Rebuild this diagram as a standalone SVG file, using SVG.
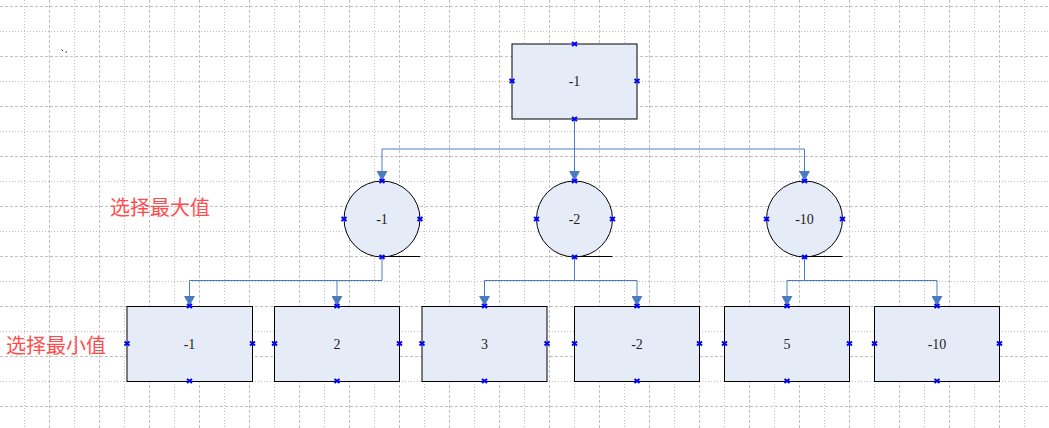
<svg xmlns="http://www.w3.org/2000/svg" xmlns:xlink="http://www.w3.org/1999/xlink" width="1049" height="428" viewBox="0 0 1049 428">
<style>
.gdash{stroke:#c0c0c0;stroke-width:1;stroke-dasharray:3,2;fill:none}
.gdot{stroke:#c0c0c0;stroke-width:1;stroke-dasharray:1,2;fill:none}
.box{fill:#e6ecf7;stroke:#000;stroke-width:1}
.num{font-family:"Liberation Serif","DejaVu Serif",serif;font-size:14px;fill:#222;text-anchor:middle}
.lbl{font-family:"Liberation Sans","Noto Sans CJK SC",sans-serif;font-size:20px;fill:#ff4d4d}
.con{stroke:#4a7cc4;stroke-width:1;fill:none}
.ul{stroke:#000;stroke-width:1}
</style>
<defs>
<marker id="arr" markerUnits="userSpaceOnUse" markerWidth="11" markerHeight="11" refX="10" refY="5.5" orient="auto">
<path d="M0,0 L10,5.5 L0,11 Z" fill="#4a7cc4"/>
</marker>
<path id="m" d="M-2.5,-2 L2.5,2 M-2.5,2 L2.5,-2" stroke="#0000ff" stroke-width="2" fill="none"/>
</defs>
<rect width="1049" height="428" fill="#fff"/>
<g id="grid">
<path class="gdot" d="M24.5,0V428M124.5,0V428M224.5,0V428M324.5,0V428M424.5,0V428M524.5,0V428M624.5,0V428M724.5,0V428M824.5,0V428M924.5,0V428M1024.5,0V428M74.5,0V428M174.5,0V428M274.5,0V428M374.5,0V428M474.5,0V428M574.5,0V428M674.5,0V428M774.5,0V428M874.5,0V428M974.5,0V428"/>
<path class="gdash" d="M49.5,0V428M99.5,0V428M149.5,0V428M199.5,0V428M249.5,0V428M299.5,0V428M349.5,0V428M399.5,0V428M449.5,0V428M499.5,0V428M549.5,0V428M599.5,0V428M649.5,0V428M699.5,0V428M749.5,0V428M799.5,0V428M849.5,0V428M899.5,0V428M949.5,0V428M999.5,0V428M1049.5,0V428"/>
<path class="gdash" d="M0,6.5H1049M0,56.5H1049M0,106.5H1049M0,156.5H1049M0,206.5H1049M0,256.5H1049M0,306.5H1049M0,356.5H1049M0,406.5H1049"/>
<path class="gdot" d="M0,31.5H1049M0,81.5H1049M0,131.5H1049M0,181.5H1049M0,231.5H1049M0,281.5H1049M0,331.5H1049M0,381.5H1049"/>
</g>
<path d="M61.5,49.5 L63,51 M65.5,52.5 L67,51.5" stroke="#0000ff" stroke-width="1"/>
<g id="connectors">
<path class="con" d="M574.5,119 V181" marker-end="url(#arr)"/>
<path class="con" d="M574.5,149 H382 V181" marker-end="url(#arr)"/>
<path class="con" d="M574.5,149 H804.5 V181" marker-end="url(#arr)"/>
<path class="con" d="M382,257 V280.5 H189.5 V306" marker-end="url(#arr)"/>
<path class="con" d="M382,280.5 H337 V306" marker-end="url(#arr)"/>
<path class="con" d="M574.5,257 V280.5 H484.5 V306" marker-end="url(#arr)"/>
<path class="con" d="M574.5,280.5 H637 V306" marker-end="url(#arr)"/>
<path class="con" d="M804.5,257 V280.5 H787 V306" marker-end="url(#arr)"/>
<path class="con" d="M804.5,280.5 H937 V306" marker-end="url(#arr)"/>
</g>
<g id="root">
<rect class="box" x="512" y="44" width="125" height="75"/>
<text class="num" x="574.5" y="86">-1</text>
<use href="#m" x="574.5" y="44"/><use href="#m" x="574.5" y="119"/><use href="#m" x="512" y="81"/><use href="#m" x="637" y="81"/>
</g>
<g id="max1">
<circle class="box" cx="382" cy="219" r="38"/>
<line class="ul" x1="382" y1="256.5" x2="420" y2="256.5"/>
<text class="num" x="382" y="224">-1</text>
<use href="#m" x="382" y="181"/><use href="#m" x="382" y="257"/><use href="#m" x="344" y="219"/><use href="#m" x="420" y="219"/>
</g>
<g id="max2">
<circle class="box" cx="574.5" cy="219" r="38"/>
<line class="ul" x1="574.5" y1="256.5" x2="612.5" y2="256.5"/>
<text class="num" x="574.5" y="224">-2</text>
<use href="#m" x="574.5" y="181"/><use href="#m" x="574.5" y="257"/><use href="#m" x="536.5" y="219"/><use href="#m" x="612.5" y="219"/>
</g>
<g id="max3">
<circle class="box" cx="804.5" cy="219" r="38"/>
<line class="ul" x1="804.5" y1="256.5" x2="842.5" y2="256.5"/>
<text class="num" x="804.5" y="224">-10</text>
<use href="#m" x="804.5" y="181"/><use href="#m" x="804.5" y="257"/><use href="#m" x="766.5" y="219"/><use href="#m" x="842.5" y="219"/>
</g>
<g id="min1">
<rect class="box" x="127" y="306.5" width="125.5" height="75"/>
<text class="num" x="189.5" y="348.5">-1</text>
<use href="#m" x="189.5" y="306"/><use href="#m" x="189.5" y="381"/><use href="#m" x="127" y="343.5"/><use href="#m" x="252.5" y="343.5"/>
</g>
<g id="min2">
<rect class="box" x="274.5" y="306.5" width="125" height="75"/>
<text class="num" x="337" y="348.5">2</text>
<use href="#m" x="337" y="306"/><use href="#m" x="337" y="381"/><use href="#m" x="274.5" y="343.5"/><use href="#m" x="399.5" y="343.5"/>
</g>
<g id="min3">
<rect class="box" x="422" y="306.5" width="125" height="75"/>
<text class="num" x="484.5" y="348.5">3</text>
<use href="#m" x="484.5" y="306"/><use href="#m" x="484.5" y="381"/><use href="#m" x="422" y="343.5"/><use href="#m" x="547" y="343.5"/>
</g>
<g id="min4">
<rect class="box" x="574.5" y="306.5" width="125" height="75"/>
<text class="num" x="637" y="348.5">-2</text>
<use href="#m" x="637" y="306"/><use href="#m" x="637" y="381"/><use href="#m" x="574.5" y="343.5"/><use href="#m" x="699.5" y="343.5"/>
</g>
<g id="min5">
<rect class="box" x="724.5" y="306.5" width="125" height="75"/>
<text class="num" x="787" y="348.5">5</text>
<use href="#m" x="787" y="306"/><use href="#m" x="787" y="381"/><use href="#m" x="724.5" y="343.5"/><use href="#m" x="849.5" y="343.5"/>
</g>
<g id="min6">
<rect class="box" x="874.5" y="306.5" width="125" height="75"/>
<text class="num" x="937" y="348.5">-10</text>
<use href="#m" x="937" y="306"/><use href="#m" x="937" y="381"/><use href="#m" x="874.5" y="343.5"/><use href="#m" x="999.5" y="343.5"/>
</g>
<g id="labels">
<text class="lbl" x="110" y="215">选择最大值</text>
<text class="lbl" x="6" y="353">选择最小值</text>
</g>
</svg>
